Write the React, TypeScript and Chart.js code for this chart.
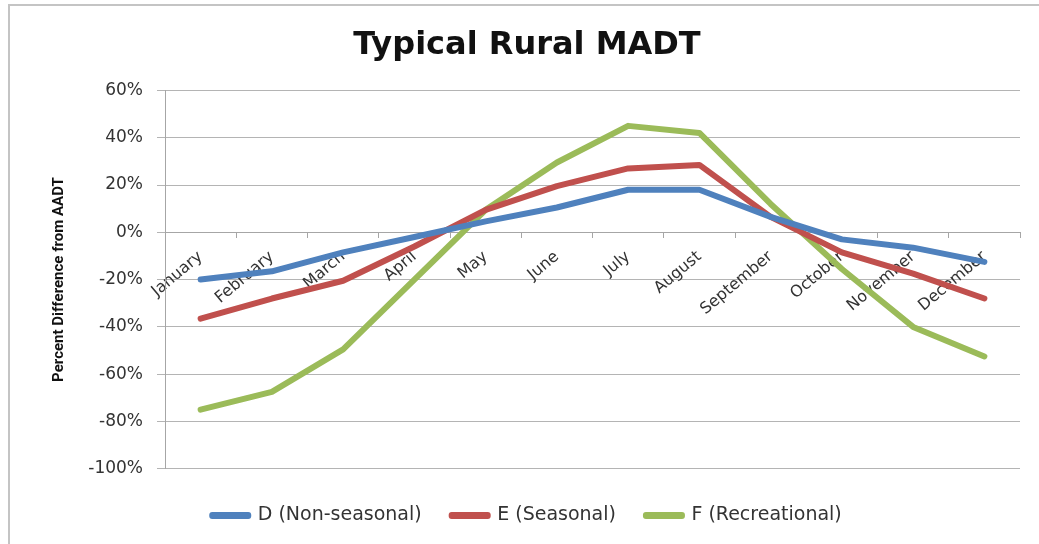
import React, { useEffect, useRef } from "react";
import { Chart, registerables } from "chart.js";

Chart.register(...registerables);

const months = [
  "January", "February", "March", "April", "May", "June",
  "July", "August", "September", "October", "November", "December",
];

const nonSeasonal = [-0.2, -0.165, -0.085, -0.02, 0.046, 0.105, 0.18, 0.18, 0.065, -0.03, -0.065, -0.125];
const seasonal = [-0.365, -0.28, -0.205, -0.06, 0.095, 0.195, 0.27, 0.285, 0.065, -0.085, -0.175, -0.28];
const recreational = [-0.75, -0.675, -0.495, -0.2, 0.095, 0.295, 0.45, 0.42, 0.12, -0.155, -0.4, -0.525];

const seriesNames = ["D (Non-seasonal)", "E (Seasonal)", "F (Recreational)"];
const seriesColors = ["#4F81BD", "#C0504D", "#9BBB59"];

const yMin = -1;
const yMax = 0.6;
const yStep = 0.2;

export default function App() {
  const ref = useRef<HTMLCanvasElement>(null);

  useEffect(() => {
    if (!ref.current) return;
    const values = [nonSeasonal, seasonal, recreational];
    const chart = new Chart(ref.current, {
      type: "line",
      data: {
        labels: months,
        datasets: values.map((v, i) => ({
          label: seriesNames[i],
          data: v,
          borderColor: seriesColors[i],
          backgroundColor: seriesColors[i],
          borderWidth: 6,
          borderCapStyle: "round",
          borderJoinStyle: "round",
          pointRadius: 0,
          tension: 0,
          fill: false,
        })),
      },
      options: {
        animation: false,
        responsive: true,
        maintainAspectRatio: false,
        layout: { padding: { top: 0, left: 24, right: 19, bottom: 9 } },
        plugins: {
          title: {
            display: true,
            text: "Typical Rural MADT",
            color: "#111",
            font: { family: "'DejaVu Sans', sans-serif", size: 32, weight: "bold" },
            padding: { top: 20, bottom: 26 },
          },
          legend: {
            display: true,
            position: "bottom",
            title: { display: true, text: "", font: { size: 1 }, padding: { top: 6, bottom: 0 } },
            labels: {
              boxWidth: 36,
              boxHeight: 1,
              padding: 30,
              color: "#333",
              font: { family: "'DejaVu Sans', sans-serif", size: 19 },
            },
          },
          tooltip: { enabled: false },
        },
        scales: {
          x: {
            type: "category",
            position: { y: 0 },
            offset: true,
            grid: {
              display: true,
              drawOnChartArea: false,
              drawTicks: true,
              tickLength: 5,
              offset: true,
              color: "#a6a6a6",
            },
            border: { display: true, color: "#a6a6a6", width: 1 },
            ticks: {
              autoSkip: false,
              minRotation: 40,
              maxRotation: 40,
              padding: 10,
              color: "#333",
              font: { family: "'DejaVu Sans', sans-serif", size: 16 },
            },
          },
          y: {
            type: "linear",
            position: "left",
            min: yMin,
            max: yMax,
            afterFit: (scale: any) => {
              scale.width = 131;
            },
            ticks: {
              stepSize: yStep,
              padding: 14,
              color: "#333",
              font: { family: "'DejaVu Sans', sans-serif", size: 17 },
              callback: (v: any) => `${Math.round(Number(v) * 100)}%`,
            },
            grid: {
              color: "#b4b4b4",
              lineWidth: 1,
              drawTicks: true,
              tickLength: 8,
            },
            border: { display: true, color: "#a6a6a6", width: 1 },
            title: {
              display: true,
              text: "Percent Difference from AADT",
              color: "#111",
              font: { family: "'Liberation Sans Narrow', 'Roboto', sans-serif", size: 15, weight: "bold" },
              padding: { top: 16, bottom: 0 },
            },
          },
        },
      },
    });
    return () => chart.destroy();
  }, []);

  return (
    <div
      style={{
        position: "fixed",
        left: 8,
        top: 4,
        width: 1031,
        height: 540,
        boxSizing: "border-box",
        borderLeft: "2px solid #c4c4c4",
        borderTop: "2px solid #c4c4c4",
        background: "#fff",
      }}
    >
      <div style={{ position: "relative", width: 1029, height: 538 }}>
        <canvas ref={ref} />
      </div>
    </div>
  );
}
